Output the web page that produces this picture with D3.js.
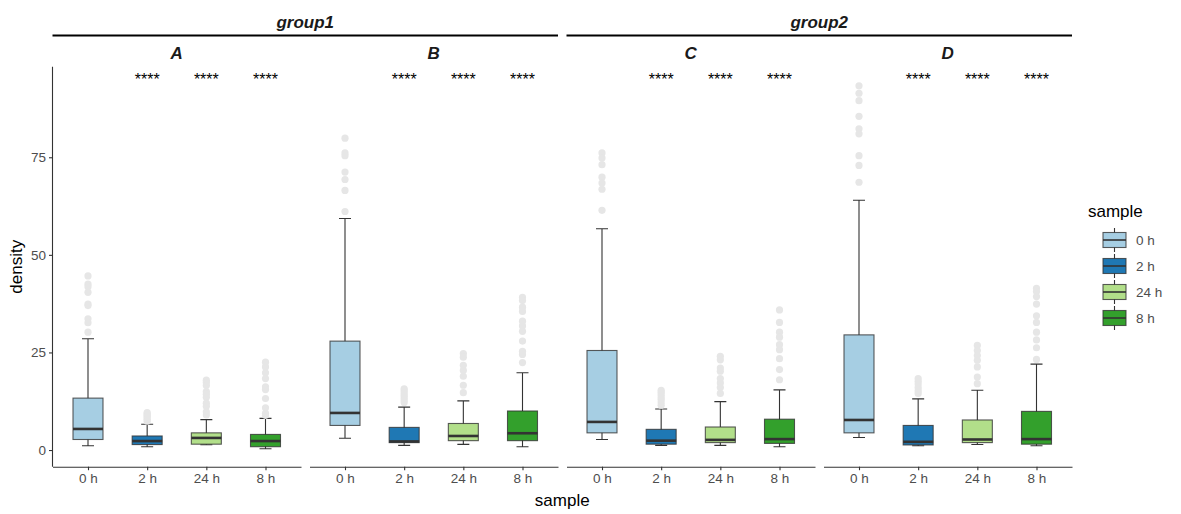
<!DOCTYPE html>
<html>
<head>
<meta charset="utf-8">
<script src="https://cdn.jsdelivr.net/npm/d3@7"></script>
<style>
  body { margin: 0; background: #fff; }
  text { font-family: "Liberation Sans", Arial, sans-serif; }
</style>
</head>
<body>
<svg id="chart" width="1181" height="514"></svg>
<script>
// facet layout: two groups, each with two panels
const panels = ["A", "B", "C", "D"]
const panelGroup = ["group1", "group1", "group2", "group2"]
const groups = ["group1", "group2"]
const samples = ["0 h", "2 h", "24 h", "8 h"]
const sampleColors = ["#A6CEE3", "#1F78B4", "#B2DF8A", "#33A02C"]
const yTicks = [0, 25, 50, 75]
const sigLabel = "****"
const sigSamples = ["2 h", "24 h", "8 h"]
const sigValue = 95.7

// box stats, one row per panel, one entry per sample (0 h, 2 h, 24 h, 8 h)
const whiskerLow = [
  [1.1, 0.85, 1.35, 0.33],
  [3.0, 1.2, 1.45, 0.85],
  [2.7, 1.2, 1.2, 0.85],
  [3.2, 1.1, 1.4, 1.1]
]
const q1 = [
  [2.7, 1.4, 1.5, 0.85],
  [6.3, 1.9, 2.4, 2.4],
  [4.4, 1.5, 1.9, 1.7],
  [4.4, 1.3, 1.9, 1.5]
]
const median = [
  [5.4, 2.3, 3.1, 2.3],
  [9.5, 2.2, 3.6, 4.3],
  [7.2, 2.4, 2.6, 2.8],
  [7.7, 2.1, 2.7, 2.8]
]
const q3 = [
  [13.3, 3.6, 4.4, 4.0],
  [27.9, 5.8, 6.8, 10.0],
  [25.5, 5.3, 5.9, 7.9],
  [29.5, 6.3, 7.7, 9.9]
]
const whiskerHigh = [
  [28.5, 6.6, 7.8, 8.1],
  [59.3, 11.0, 12.6, 19.8],
  [56.7, 10.5, 12.4, 15.4],
  [64.0, 13.1, 15.3, 22.0]
]
const outliers = [
  [
    [44.6, 42.5, 41.8, 40.4, 37.4, 37.0, 33.6, 32.6, 30.2],
    [9.6, 9.3, 9.0, 8.7, 8.3, 7.9, 7.4],
    [17.9, 17.3, 16.5, 15.0, 14.3, 13.5, 12.0, 11.2, 9.8, 9.0],
    [22.5, 21.3, 19.8, 18.3, 16.2, 15.5, 13.2, 10.8, 9.4, 8.9]
  ],
  [
    [79.9, 76.1, 75.4, 71.2, 69.3, 66.5, 61.1],
    [15.7, 15.2, 14.6, 14.0, 13.4, 12.8, 12.2],
    [24.7, 23.8, 21.7, 20.4, 18.9, 16.6, 14.7],
    [39.1, 38.3, 36.6, 35.5, 33.0, 31.8, 30.4, 27.9, 25.3, 24.5, 22.4]
  ],
  [
    [76.1, 74.8, 73.1, 69.9, 68.4, 66.8, 61.4],
    [15.3, 14.8, 14.2, 13.6, 13.0, 12.3, 11.5],
    [24.0, 23.1, 21.0, 20.2, 18.3, 17.2, 16.0, 14.5],
    [35.9, 32.7, 30.2, 28.9, 27.0, 25.7, 23.4, 20.6, 18.0]
  ],
  [
    [93.3, 91.4, 89.5, 85.5, 82.3, 81.0, 75.4, 72.9, 68.6],
    [18.3, 17.6, 16.9, 16.0, 15.2, 14.5],
    [26.8, 25.5, 24.2, 23.0, 21.3, 18.7, 17.0],
    [41.4, 40.6, 39.3, 37.4, 34.4, 32.7, 30.2, 28.2, 26.2, 23.2]
  ]
]

const svg = d3.select('#chart')
const dark = '#333333'
const tickGrey = '#4d4d4d'

const plotLeft = 52.5
const plotTop = 66.7
const plotBottom = 466.7
const panelWidth = 248.5
const panelGap = 8.5
const boxWidth = 30
const capWidth = 12

var yScale = d3.scaleLinear()
  .domain([-4.27, 98.2])
  .range([plotBottom, plotTop])

var panelLeft = i => plotLeft + i * (panelWidth + panelGap)

// y axis, only on the first panel
var yAxisG = svg.append("g")
  .attr("transform", "translate(" + plotLeft + ",0)")
  .call(d3.axisLeft(yScale).tickValues(yTicks).tickSize(3.5).tickPadding(3))
yAxisG.select(".domain").attr("d", "M0," + plotTop + "V" + plotBottom).attr("stroke", dark).attr("stroke-width", 1.1)
yAxisG.selectAll(".tick line").attr("stroke", dark).attr("stroke-width", 1.1)
yAxisG.selectAll(".tick text").attr("fill", tickGrey).style("font-size", "13.5px")

svg.append("text")
  .attr("transform", "translate(22," + ((plotTop + plotBottom) / 2) + ") rotate(-90)")
  .attr("text-anchor", "middle")
  .style("font-size", "17px")
  .attr("fill", "#000")
  .text("density")

// group strips
groups.forEach(function(g, gi) {
  var idx = panels.map((p, i) => i).filter(i => panelGroup[i] === g)
  var x0 = panelLeft(d3.min(idx))
  var x1 = panelLeft(d3.max(idx)) + panelWidth
  svg.append("line")
    .attr("x1", x0).attr("x2", x1)
    .attr("y1", 35.5).attr("y2", 35.5)
    .attr("stroke", "#000").attr("stroke-width", 2.2)
  svg.append("text")
    .attr("x", (x0 + x1) / 2).attr("y", 28)
    .attr("text-anchor", "middle")
    .style("font-size", "17px").style("font-weight", "bold").style("font-style", "italic")
    .attr("fill", "#1a1a1a")
    .text(g)
})

panels.forEach(function(p, pi) {
  var left = panelLeft(pi)
  var xScale = d3.scalePoint()
    .domain(samples)
    .range([left, left + panelWidth])
    .padding(0.6)

  // panel label
  svg.append("text")
    .attr("x", left + panelWidth / 2).attr("y", 59)
    .attr("text-anchor", "middle")
    .style("font-size", "17px").style("font-weight", "bold").style("font-style", "italic")
    .attr("fill", "#1a1a1a")
    .text(p)

  // x axis
  var xAxisG = svg.append("g")
    .attr("transform", "translate(0," + plotBottom + ")")
    .call(d3.axisBottom(xScale).tickSize(3.5).tickPadding(3).tickSizeOuter(0))
  xAxisG.select(".domain").attr("stroke", dark).attr("stroke-width", 1.1)
  xAxisG.selectAll(".tick line").attr("stroke", dark).attr("stroke-width", 1.1)
  xAxisG.selectAll(".tick text").attr("fill", tickGrey).style("font-size", "13.5px")

  var stats = samples.map((s, si) => ({
    sample: s,
    color: sampleColors[si],
    lo: whiskerLow[pi][si],
    q1: q1[pi][si],
    med: median[pi][si],
    q3: q3[pi][si],
    hi: whiskerHigh[pi][si],
    out: outliers[pi][si]
  }))

  var g = svg.append("g")

  // error bar caps
  g.selectAll(".cap")
    .data(stats)
    .join("path")
      .attr("fill", "none")
      .attr("stroke", dark)
      .attr("stroke-width", 1.1)
      .attr("d", d => {
        var cx = xScale(d.sample)
        return "M" + (cx - capWidth / 2) + "," + yScale(d.lo) + "H" + (cx + capWidth / 2) +
          "M" + (cx - capWidth / 2) + "," + yScale(d.hi) + "H" + (cx + capWidth / 2) +
          "M" + cx + "," + yScale(d.lo) + "V" + yScale(d.hi)
      })

  // outliers
  stats.forEach(function(d) {
    g.selectAll(null)
      .data(d.out)
      .join("circle")
        .attr("cx", xScale(d.sample))
        .attr("cy", v => yScale(v))
        .attr("r", 3.6)
        .attr("fill", "#e6e6e6")
  })

  // boxes
  g.selectAll(".box")
    .data(stats)
    .join("rect")
      .attr("x", d => xScale(d.sample) - boxWidth / 2)
      .attr("y", d => yScale(d.q3))
      .attr("width", boxWidth)
      .attr("height", d => yScale(d.q1) - yScale(d.q3))
      .attr("fill", d => d.color)
      .attr("stroke", dark)
      .attr("stroke-opacity", 0.8)
      .attr("stroke-width", 1.1)

  // medians
  g.selectAll(".med")
    .data(stats)
    .join("line")
      .attr("x1", d => xScale(d.sample) - boxWidth / 2)
      .attr("x2", d => xScale(d.sample) + boxWidth / 2)
      .attr("y1", d => yScale(d.med))
      .attr("y2", d => yScale(d.med))
      .attr("stroke", dark)
      .attr("stroke-width", 2.6)

  // significance labels
  g.selectAll(".sig")
    .data(sigSamples)
    .join("text")
      .attr("x", d => xScale(d))
      .attr("y", yScale(sigValue) + 9)
      .attr("text-anchor", "middle")
      .style("font-size", "16px")
      .attr("fill", "#000")
      .text(sigLabel)
})

svg.append("text")
  .attr("x", (plotLeft + panelLeft(3) + panelWidth) / 2)
  .attr("y", 506)
  .attr("text-anchor", "middle")
  .style("font-size", "17px")
  .attr("fill", "#000")
  .text("sample")

// legend
var legend = svg.append("g").attr("transform", "translate(1088,0)")
legend.append("text")
  .attr("x", 0).attr("y", 217)
  .style("font-size", "17px")
  .attr("fill", "#000")
  .text("sample")

var keys = legend.selectAll(".key")
  .data(samples)
  .join("g")
    .attr("transform", (d, i) => "translate(0," + (240 + i * 26) + ")")

keys.append("line")
  .attr("x1", 26.5).attr("x2", 26.5)
  .attr("y1", -12).attr("y2", 12)
  .attr("stroke", dark).attr("stroke-width", 1.1)
keys.append("rect")
  .attr("x", 15).attr("y", -7.5)
  .attr("width", 23).attr("height", 15)
  .attr("fill", (d, i) => sampleColors[i])
  .attr("stroke", dark).attr("stroke-opacity", 0.8).attr("stroke-width", 1.1)
keys.append("line")
  .attr("x1", 15).attr("x2", 38)
  .attr("y1", 0).attr("y2", 0)
  .attr("stroke", dark).attr("stroke-width", 1.6)
keys.append("text")
  .attr("x", 48).attr("y", 5)
  .style("font-size", "13.5px")
  .attr("fill", tickGrey)
  .text(d => d)
</script>
</body>
</html>
